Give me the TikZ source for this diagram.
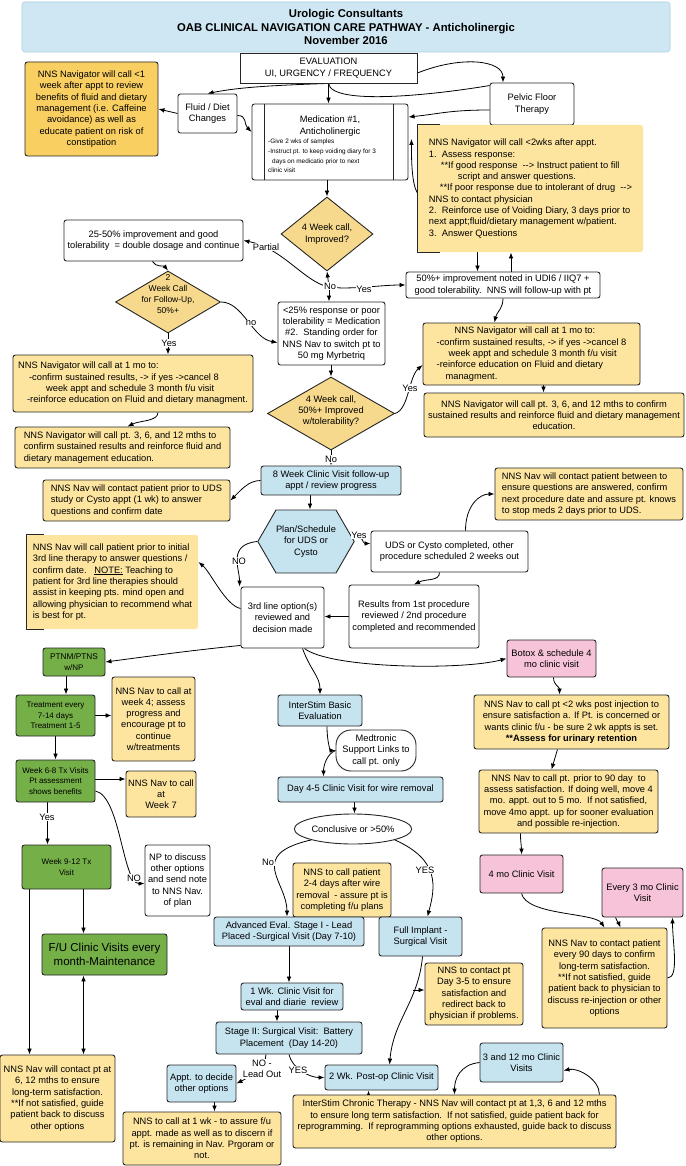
\documentclass[tikz,border=0pt]{standalone}
\usepackage{fontspec}
\setmainfont{Liberation Sans}
\usetikzlibrary{shapes.geometric,shapes.symbols,arrows.meta}
\definecolor{cTitle}{HTML}{CFE7F2}
\definecolor{cTitleB}{HTML}{A8D0E2}
\definecolor{cBlue}{HTML}{C6E3F0}
\definecolor{cNote}{HTML}{FDE5A0}
\definecolor{cNoteO}{HTML}{F9CF62}
\definecolor{cDia}{HTML}{F6D98C}
\definecolor{cGreen}{HTML}{74AF47}
\definecolor{cPink}{HTML}{F6C3D8}
\newcommand{\fsMain}{\fontsize{9.3}{11.3}\selectfont}
\newcommand{\fsSmall}{\fontsize{6.4}{9.6}\selectfont}
\newcommand{\fsGreen}{\fontsize{8}{10.3}\selectfont}
\newcommand{\fsBig}{\fontsize{11.5}{14.3}\selectfont}
\newcommand{\fsTitle}{\bfseries\fontsize{11.3}{13.7}\selectfont}
\newcommand{\fsDia}{\fontsize{8.5}{11}\selectfont}
\newcommand{\mkbox}[7]{%
  \pgfmathsetmacro{\bxw}{#5-#3}%
  \pgfmathsetmacro{\bxh}{#6-#4}%
  \pgfmathsetmacro{\bxx}{(#3+#5)/2}%
  \pgfmathsetmacro{\bxy}{(#4+#6)/2}%
  \node[#2,minimum width=\bxw pt,minimum height=\bxh pt] (#1) at (\bxx,\bxy) {#7};%
}
\pgfdeclarelayer{background}
\pgfsetlayers{background,main}
\begin{document}
\begin{tikzpicture}[x=1pt,y=-1pt,
  bxbase/.style={draw=black!85, line width=0.9pt, rounded corners=2.5pt, font=\fsMain, align=center, inner xsep=1.5pt, inner ysep=1pt, text=black},
  whitebox/.style={bxbase, fill=white},
  plainbox/.style={bxbase, fill=white, rounded corners=0pt},
  bluebox/.style={bxbase, fill=cBlue},
  greenbox/.style={bxbase, fill=cGreen, font=\fsGreen},
  pinkbox/.style={bxbase, fill=cPink},
  ynote/.style={bxbase, fill=cNote},
  onote/.style={bxbase, fill=cNoteO},
  bnote/.style={bxbase, draw=none, fill=cNote},
  lefttext/.style={align=left},
  titlebox/.style={draw=cTitleB, line width=0.6pt, rounded corners=3pt, fill=cTitle, font=\fsTitle, align=center},
  dia/.style={shape=diamond, draw=black!85, line width=0.9pt, fill=cDia, inner sep=0pt},
  txt/.style={font=\fsMain, align=center, inner sep=0pt},
  hexa/.style={shape=signal, signal to=east and west, signal pointer angle=120, draw=black!85, line width=0.9pt, fill=cBlue, font=\fsMain, align=center, inner sep=0pt, minimum width=82pt, minimum height=63pt},
  ellip/.style={shape=ellipse, draw=black!85, line width=0.9pt, fill=white, font=\fsMain, inner sep=0pt, minimum width=114pt, minimum height=30pt},
  brk/.style={draw=black!85, line width=0.9pt},
  conn/.style={draw=black, line width=0.8pt},
  arr/.style={conn, -{Latex[length=6pt,width=4.6pt]}},
  arrb/.style={conn, {Latex[length=6pt,width=4.6pt]}-{Latex[length=6pt,width=4.6pt]}},
  lbl/.style={font=\fsMain, fill=white, inner sep=0.6pt}
]
\useasboundingbox (0,0) rectangle (685,1166);
\begin{pgfonlayer}{background}
\fill[white] (0,0) rectangle (685,1166);
\end{pgfonlayer}

% ---------- top ----------
\mkbox{title}{titlebox}{22}{2}{670}{52}{Urologic Consultants\\OAB CLINICAL NAVIGATION CARE PATHWAY - Anticholinergic\\November 2016}
\mkbox{eval}{plainbox}{240}{53}{417}{83}{EVALUATION\\UI, URGENCY / FREQUENCY}
\mkbox{noteA}{onote}{25}{62}{158}{156}{NNS Navigator will call <1\\week after appt to review\\benefits of fluid and dietary\\management (i.e. Caffeine\\avoidance) as well as\\educate patient on risk of\\constipation}
\mkbox{fluid}{whitebox}{178}{94}{237}{133}{Fluid / Diet\\Changes}
\mkbox{med1}{whitebox}{252}{104}{408}{180}{}
\draw[brk] ([xshift=13pt]med1.north west) -- ([xshift=13pt]med1.south west);
\draw[brk] ([xshift=-15pt]med1.north east) -- ([xshift=-15pt]med1.south east);
\node[txt] (med1t) at (330,126) {Medication \#1,\\Anticholinergic};
\node[txt, font=\fsSmall, align=left, anchor=north west] (med1b) at (268,139) {-Give 2 wks of samples\\-Instruct pt. to keep voiding diary for 3\\\hspace*{4pt}days on medicatio prior to next\\clinic visit};
\mkbox{pelvic}{whitebox}{490}{83}{574}{125}{Pelvic Floor\\Therapy}
\mkbox{noteB}{bnote,lefttext}{418}{125}{643}{252}{NNS Navigator will call <2wks after appt.\\1.\ \ Assess response:\\\hspace*{12pt}**If good response\ \ -{}-> Instruct patient to fill\\\hspace*{29pt}script and answer questions.\\\hspace*{11pt}**If poor response due to intolerant of drug\ \ -{}->\\NNS to contact physician\\2.\ \ Reinforce use of Voiding Diary, 3 days prior to\\next appt;fluid/dietary management w/patient.\\3.\ \ Answer Questions}
\draw[brk] ([xshift=22pt]noteB.north west) -- (noteB.north west) -- (noteB.south west) -- ([xshift=22pt]noteB.south west);

% ---------- first decisions ----------
\node[dia, minimum width=92pt, minimum height=74pt] (d1) at (327,234) {};
\node[txt] (d1t) at (327,234) {4 Week call,\\Improved?};
\mkbox{box2550}{whitebox}{64}{220}{243}{261}{25-50\% improvement and good\\tolerability\ \ = double dosage and continue}
\node[dia, minimum width=105pt, minimum height=62pt] (d3) at (168,302) {};
\node[txt, font=\fsDia] (d3t) at (168,294) {2\\Week Call\\for Follow-Up,\\50\%+};
\mkbox{box50}{whitebox}{406}{272}{600}{298}{50\%+ improvement noted in UDI6 / IIQ7 +\\good tolerability.\ \ NNS will follow-up with pt}
\mkbox{box25}{whitebox}{278}{302}{385}{365}{<25\% response or poor\\tolerability = Medication\\\#2.\ \ Standing order for\\NNS Nav to switch pt to\\50 mg Myrbetriq}
\mkbox{noteR1}{ynote,lefttext}{423}{323}{640}{385}{\hspace*{18pt}NNS Navigator will call at 1 mo to:\\-confirm sustained results, -> if yes ->cancel 8\\\hspace*{12pt}week appt and schedule 3 month f/u visit\\-reinforce education on Fluid and dietary\\\hspace*{9pt}managment.}
\mkbox{noteR2}{ynote,inner xsep=0.5pt}{424}{393}{684}{437}{NNS Navigator will call pt. 3, 6, and 12 mths to confirm\\sustained results and reinforce fluid and dietary management\\education.}
\mkbox{noteL1}{ynote,lefttext}{13}{355}{253}{412}{NNS Navigator will call at 1 mo to:\\\hspace*{11pt}-confirm sustained results, -> if yes ->cancel 8\\\hspace*{28pt}week appt and schedule 3 month f/u visit\\\hspace*{9pt}-reinforce education on Fluid and dietary managment.}
\mkbox{noteL2}{ynote,lefttext}{15}{427}{230}{468}{NNS Navigator will call pt. 3, 6, and 12 mths to\\confirm sustained results and reinforce fluid and\\dietary management education.}
\node[dia, minimum width=127pt, minimum height=73pt] (d2) at (331,413.5) {};
\node[txt] (d2t) at (331,411) {4 Week call,\\50\%+ Improved\\w/tolerability?};

% ---------- 8 week / UDS ----------
\mkbox{box8wk}{bluebox}{261}{466}{401}{495}{8 Week Clinic Visit follow-up\\appt / review progress}
\mkbox{noteL3}{ynote,lefttext}{43}{480}{230}{521}{NNS Nav will contact patient prior to UDS\\study or Cysto appt (1 wk) to answer\\questions and confirm date}
\node[hexa] (hex) at (306,541.5) {Plan/Schedule\\for UDS or\\Cysto};
\mkbox{boxUDS}{whitebox}{371}{531}{528}{572}{UDS or Cysto completed, other\\procedure scheduled 2 weeks out}
\mkbox{noteR3}{ynote,lefttext}{495}{468}{683}{520}{NNS Nav will contact patient between to\\ensure questions are answered, confirm\\next procedure date and assure pt. knows\\to stop meds 2 days prior to UDS.}
\mkbox{boxRes}{whitebox}{349}{585}{479}{648}{Results from 1st procedure\\reviewed / 2nd procedure\\completed and recommended}
\mkbox{box3rd}{whitebox}{241}{587}{324}{648}{3rd line option(s)\\reviewed and\\decision made}
\mkbox{noteL4}{bnote,lefttext}{27}{535}{198}{629}{NNS Nav will call patient prior to initial\\3rd line therapy to answer questions /\\confirm date.\ \ \ \underline{NOTE:} Teaching to\\patient for 3rd line therapies should\\assist in keeping pts. mind open and\\allowing physician to recommend what\\is best for pt.}
\draw[brk] ([xshift=17pt]noteL4.north west) -- (noteL4.north west) -- (noteL4.south west) -- ([xshift=17pt]noteL4.south west);

% ---------- left column ----------
\mkbox{ptnm}{greenbox}{43}{648}{105}{676}{\fontsize{8.3}{10.5}\selectfont PTNM/PTNS\\w/NP}
\mkbox{treat}{greenbox}{16}{695}{95}{736}{Treatment every\\7-14 days\\Treatment 1-5}
\mkbox{noteW4}{ynote}{112}{677}{195}{761}{NNS Nav to call at\\week 4; assess\\progress and\\encourage pt to\\continue\\w/treatments}
\mkbox{wk68}{greenbox}{16}{760}{95}{802}{Week 6-8 Tx Visits\\Pt assessment\\shows benefits}
\mkbox{noteW7}{ynote,inner xsep=0.5pt}{126}{771}{196}{817}{NNS Nav to call\\at\\Week 7}
\mkbox{wk912}{greenbox}{22}{845}{111}{889}{Week 9-12 Tx\\Visit}
\mkbox{np}{whitebox}{145}{845}{210}{916}{NP to discuss\\other options\\and send note\\to NNS Nav.\\of plan}
\mkbox{fu}{greenbox,font=\fsBig}{42}{934}{167}{975}{F/U Clinic Visits every\\month-Maintenance}
\mkbox{noteBL}{ynote}{0}{1055}{115}{1142}{NNS Nav will contact pt at\\6, 12 mths to ensure\\long-term satisfaction.\\**If not satisfied, guide\\patient back to discuss\\other options}

% ---------- middle column ----------
\mkbox{interstim}{bluebox}{278}{695}{362}{726}{InterStim Basic\\Evaluation}
\mkbox{medtronic}{whitebox,rounded corners=15pt}{336}{730}{416}{771}{Medtronic\\Support Links to\\call pt. only}
\mkbox{day45}{bluebox}{278}{777}{443}{802}{Day 4-5 Clinic Visit for wire removal}
\node[ellip] (ell) at (353,829) {Conclusive or >50\%};
\mkbox{noteWire}{ynote}{293}{863}{391}{917}{NNS to call patient\\2-4 days after wire\\removal\ \ - assure pt is\\completing f/u plans}
\mkbox{adv}{bluebox}{214}{917}{364}{946}{Advanced Eval. Stage I - Lead\\Placed -Surgical Visit (Day 7-10)}
\mkbox{full}{bluebox}{379}{917}{462}{956}{Full Implant -\\Surgical Visit}
\mkbox{wk1}{bluebox}{241}{983}{343}{1010}{1 Wk. Clinic Visit for\\eval and diarie\ \ review}
\mkbox{stage2}{bluebox}{216}{1022}{362}{1054}{Stage II: Surgical Visit:\ \ Battery\\Placement\ \ (Day 14-20)}
\mkbox{appt}{bluebox,inner xsep=0.5pt}{167}{1065}{236}{1102}{Appt. to decide\\other options}
\mkbox{wk2}{bluebox}{325}{1065}{438}{1090}{2 Wk. Post-op Clinic Visit}
\mkbox{noteD35}{ynote}{425}{963}{523}{1025}{NNS to contact pt\\Day 3-5 to ensure\\satisfaction and\\redirect back to\\physician if problems.}
\mkbox{chronic}{ynote,inner xsep=0.5pt}{293}{1095}{616}{1148}{InterStim Chronic Therapy - NNS Nav will contact pt at 1,3, 6 and 12 mths\\to ensure long term satisfaction.\ \ If not satisfied, guide patient back for\\reprogramming.\ \ If reprogramming options exhausted, guide back to discuss\\other options.}
\mkbox{v312}{bluebox}{480}{1043}{563}{1082}{3 and 12 mo Clinic\\Visits}
\mkbox{note1wk}{ynote}{123}{1112}{281}{1165}{NNS to call at 1 wk - to assure f/u\\appt. made as well as to discern if\\pt. is remaining in Nav. Prgoram or\\not.}

% ---------- right column ----------
\mkbox{botox}{pinkbox}{507}{640}{596}{677}{Botox \& schedule 4\\mo clinic visit}
\mkbox{noteBotox}{ynote}{474}{695}{669}{749}{NNS Nav to call pt <2 wks post injection to\\ensure satisfaction a. If Pt. is concerned or\\wants clinic f/u - be sure 2 wk appts is set.\\\textbf{**Assess for urinary retention}}
\mkbox{note90}{ynote}{479}{770}{658}{833}{NNS Nav to call pt. prior to 90 day\ \ to\\assess satisfaction. If doing well, move 4\\mo. appt. out to 5 mo.\ \ If not satisfied,\\move 4mo appt. up for sooner evaluation\\and possible re-injection.}
\mkbox{mo4}{pinkbox}{480}{855}{563}{893}{4 mo Clinic Visit}
\mkbox{every3}{pinkbox}{602}{868}{683}{917}{Every 3 mo Clinic\\Visit}
\mkbox{noteEvery}{ynote}{542}{928}{667}{1028}{NNS Nav to contact patient\\every 90 days to confirm\\long-term satisfaction.\\**If not satisfied, guide\\patient back to physician to\\discuss re-injection or other\\options}

\coordinate (j1) at (329,287);
\coordinate (jD) at (413,990);

% ---------- connectors ----------
\begin{pgfonlayer}{background}
\draw[arr] (eval.south) .. controls +(-60,2) and +(30,-6) .. (fluid.north);
\draw[arr] (eval.south) -- (eval.south |- med1.north);
\draw[arr] ([yshift=-5pt]eval.east) .. controls +(45,-18) and +(0,-22) .. ([xshift=-29pt]pelvic.north);
\draw[conn] (eval.south) .. controls +(3,22) and +(-60,10) .. ([yshift=-3pt]pelvic.north west);
\draw[arr] ([yshift=-6pt]pelvic.west) .. controls +(-40,0) and +(30,-3) .. ([yshift=25pt]med1.east);
\draw[arr] (fluid.west) -- (noteA.east);
\draw[arr] ([yshift=-2pt]fluid.east) .. controls +(10,0) and +(-8,-8) .. ([yshift=10pt]med1.west);
\draw[arr] ([yshift=-5pt]noteB.west) .. controls +(-6,-10) and +(0,20) .. ([xshift=3pt,yshift=3pt]med1.east);
\draw[arr] (d1.north |- med1.south) -- (d1.north);
\draw[arr] (j1) -- (d1.south);
\draw[arr] (j1) -- (j1 |- box25.north);
\draw[arr] (j1) .. controls +(20,3) and +(-25,0) .. (box50.west);
\draw[arr] (j1) .. controls +(-25,-5) and +(40,8) .. (box2550.east);
\draw[arr] ([xshift=-1pt]box2550.south) .. controls +(3,6) and +(-4,-5) .. (d3.north);
\draw[arr] (d3.east) .. controls +(22,0) and +(-25,-4) .. ([yshift=-9pt]box25.west);
\draw[arr] (d3.south) -- (d3.south |- noteL1.north);
\draw[arr] (box50.south) .. controls +(0,10) and +(2,-10) .. ([xshift=-37pt]noteR1.north);
\draw[arr] ([xshift=-53pt]noteB.south) -- ([xshift=-53pt]noteB.south |- box50.north);
\draw[arr] ([xshift=8pt]box50.north) -- ([xshift=8pt]box50.north |- noteB.south);
\draw[arr] (d2.north |- box25.south) -- (d2.north);
\draw[arr] (d2.east) .. controls +(14,-4) and +(-14,12) .. ([yshift=-11pt]noteR1.west);
\draw[arr] (d2.south) -- (d2.south |- box8wk.north);
\draw[arr] ([xshift=25pt]noteL1.south) .. controls +(0,9) and +(12,-6) .. ([xshift=5pt]noteL2.north);
\draw[arr] ([xshift=12pt]noteR1.south) -- ([xshift=12pt]noteR1.south |- noteR2.north);
\draw[arr] (box8wk.west) .. controls +(-12,0) and +(10,-10) .. (noteL3.east);
\draw[arr] ([xshift=-21pt]box8wk.south) -- ([xshift=-21pt]box8wk.south |- hex.north);
\draw[arr] ([yshift=5pt]hex.east) .. controls +(8,-2) and +(-8,0) .. ([yshift=8pt]boxUDS.west);
\draw[arr] ([xshift=16pt]boxUDS.north) .. controls +(0,-25) and +(-15,0) .. (noteR3.west);
\draw[arr] ([xshift=-10pt]boxUDS.south) .. controls +(0,9) and +(12,-6) .. (boxRes.north);
\draw[arr] (boxRes.west) -- (boxRes.west -| box3rd.east);
\draw[arr] (hex.west) .. controls +(-30,3) and +(0,-18) .. ([xshift=-1pt]box3rd.north west);
\draw[arr] ([yshift=9pt]box3rd.west) .. controls +(-15,-3) and +(12,10) .. ([yshift=20pt]noteL4.east);
\draw[arr] ([yshift=3pt]box3rd.south west) .. controls +(-50,5) and +(45,-6) .. (ptnm.east);
\draw[arr] ([xshift=20pt]box3rd.south) .. controls +(8,22) and +(0,-18) .. (interstim.north);
\draw[arr] ([xshift=22pt]box3rd.south) .. controls +(25,20) and +(-45,12) .. (botox.west);
\draw[arr] ([xshift=-8pt]ptnm.south) -- ([xshift=-8pt]ptnm.south |- treat.north);
\draw[arr] (treat.east) -- (treat.east -| noteW4.west);
\draw[arr] (treat.south) -- (treat.south |- wk68.north);
\draw[arr] ([yshift=2pt]wk68.east) -- ([yshift=2pt]wk68.east -| noteW7.west);
\draw[arr] ([xshift=-8pt]wk68.south) -- ([xshift=-8pt]wk68.south |- wk912.north);
\draw[arr] ([yshift=-10pt]wk68.east) .. controls +(25,5) and +(-22,0) .. ([yshift=-3pt]np.west);
\draw[arr] ([xshift=17pt]wk912.south) -- ([xshift=17pt]wk912.south |- fu.north);
\draw[arr] ([xshift=-37pt]wk912.south) -- ([xshift=-37pt]wk912.south |- noteBL.north);
\draw[arrb] ([xshift=-21pt]fu.south) -- ([xshift=-21pt]fu.south |- noteBL.north);
\draw[arr] ([xshift=7pt]interstim.south) .. controls +(0,16) and +(-5,0) .. (medtronic.west);
\draw[arr] (medtronic.west) .. controls +(-8,3) and +(0,-12) .. ([xshift=-37pt]day45.north);
\draw[arr] ([xshift=-6pt]day45.south) -- ([xshift=-6pt]day45.south |- ell.north);
\draw[arr] (ell.south west) .. controls +(-65,15) and +(0,-35) .. ([xshift=-2pt]adv.north);
\draw[arr] (ell.south east) .. controls +(45,20) and +(8,-30) .. ([xshift=7pt]full.north);
\draw[arr] (adv.south) -- (adv.south |- wk1.north);
\draw[arr] ([xshift=-15pt]wk1.south) -- ([xshift=-15pt]wk1.south |- stage2.north);
\draw[arr] ([xshift=-23pt]stage2.south) .. controls +(0,14) and +(12,-6) .. (appt.east);
\draw[arr] (stage2.south) .. controls +(3,14) and +(-15,0) .. (wk2.west);
\draw[arr] ([xshift=2pt]full.south) .. controls +(-4,45) and +(4,-45) .. ([xshift=8pt]wk2.north);
\draw[arr] (jD) -- ([yshift=4pt]noteD35.west);
\draw[arr] ([xshift=-86pt]chronic.north) -- ([xshift=-86pt]chronic.north |- wk2.south);
\draw[arr] (v312.west) .. controls +(-20,2) and +(0,-15) .. (chronic.north);
\draw[arr] ([xshift=-17pt]chronic.north east) .. controls +(0,-15) and +(15,-3) .. ([yshift=-8pt]v312.east);
\draw[arr] ([xshift=13pt]appt.south) -- ([xshift=13pt]appt.south |- note1wk.north);
\draw[arr] ([xshift=2pt]botox.south) .. controls +(0,8) and +(0,-8) .. ([xshift=-12pt]noteBotox.north);
\draw[arr] ([xshift=-14pt]noteBotox.south) -- ([xshift=-17pt]note90.north);
\draw[arr] ([xshift=-48pt]note90.south) .. controls +(0,10) and +(0,-10) .. (mo4.north);
\draw[arr] (mo4.south) .. controls +(5,22) and +(-10,-15) .. (noteEvery.north);
\draw[arr] ([xshift=-27pt]every3.south) .. controls +(2,5) and +(-2,-5) .. ([xshift=16pt]noteEvery.north);
\draw[arr] (noteEvery.east) .. controls +(12,0) and +(0,25) .. ([xshift=30pt]every3.south);
\end{pgfonlayer}

% ---------- labels ----------
\node[lbl] (lNo1) at (330,286) {No};
\node[lbl] (lYes1) at (364,289) {Yes};
\node[lbl] (lPartial) at (266,247) {Partial};
\node[lbl] (lno2) at (251,323) {no};
\node[lbl] (lYes2) at (169,343) {Yes};
\node[lbl] (lYes3) at (410,388) {Yes};
\node[lbl] (lNo3) at (331,459) {No};
\node[lbl] (lYes4) at (359,535) {Yes};
\node[lbl] (lNO4) at (239,561) {NO};
\node[lbl] (lYes5) at (47,817) {Yes};
\node[lbl] (lNO5) at (134,878) {NO};
\node[lbl] (lNo6) at (268,862) {No};
\node[lbl] (lYES6) at (425,870) {YES};
\node[lbl,align=center] (lNO7) at (262,1069) {NO -\\Lead Out};
\node[lbl] (lYES7) at (298,1070) {YES};
\end{tikzpicture}
\end{document}
